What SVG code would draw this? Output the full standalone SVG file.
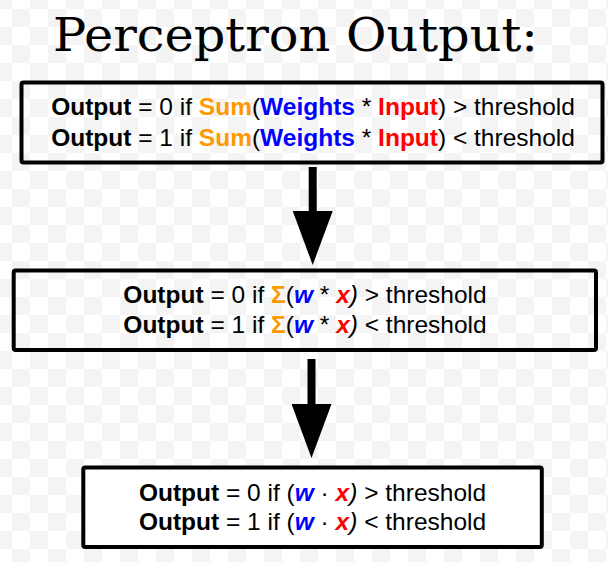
<svg xmlns="http://www.w3.org/2000/svg" width="608" height="562" viewBox="0 0 608 562">
  <defs>
    <pattern id="checker" patternUnits="userSpaceOnUse" x="12" y="9" width="36" height="36">
      <rect x="0" y="0" width="36" height="36" fill="#ffffff"/>
      <rect x="0" y="0" width="18" height="18" fill="#f4f4f4"/>
      <rect x="18" y="18" width="18" height="18" fill="#f4f4f4"/>
    </pattern>
    <marker id="head" viewBox="0 0 54 40" refX="4" refY="20" markerWidth="54" markerHeight="40" markerUnits="userSpaceOnUse" orient="auto">
      <path d="M0,0 L54,20 L0,40 Z" fill="#000"/>
    </marker>
    <style>
      .box { fill: none; stroke: #000; stroke-width: 4; }
      .t { font-family: "Liberation Sans", Arial, sans-serif; font-size: 24.5px; fill: #000; text-anchor: middle; }
      .title { font-family: "DejaVu Serif", "Liberation Serif", serif; font-size: 46px; fill: #000; }
      .b { font-weight: bold; }
      .i { font-style: italic; }
      .o { fill: #ff9900; }
      .bl { fill: #0000ff; }
      .r { fill: #ff0000; }
      .conn { stroke: #000; stroke-width: 8; fill: none; }
    </style>
  </defs>

  <rect x="0" y="0" width="608" height="562" fill="url(#checker)"/>

  <text class="title" x="53" y="50.5" textLength="485" lengthAdjust="spacingAndGlyphs">Perceptron Output:</text>

  <g id="node-sum">
    <rect class="box" x="21.5" y="82.5" width="581" height="80" rx="2"/>
    <text class="t" x="313" y="114.5"><tspan class="b">Output</tspan> = 0 if <tspan class="b o">Sum</tspan>(<tspan class="b bl">Weights</tspan> * <tspan class="b r">Input</tspan>) &gt; threshold</text>
    <text class="t" x="313" y="145.5"><tspan class="b">Output</tspan> = 1 if <tspan class="b o">Sum</tspan>(<tspan class="b bl">Weights</tspan> * <tspan class="b r">Input</tspan>) &lt; threshold</text>
  </g>

  <g id="node-sigma">
    <rect class="box" x="13.7" y="270.5" width="582.3" height="79.5" rx="2"/>
    <text class="t" x="305" y="303"><tspan class="b">Output</tspan> = 0 if <tspan class="b o">Σ</tspan>(<tspan class="b i bl">w</tspan> * <tspan class="b i r">x</tspan><tspan class="i">)</tspan> &gt; threshold</text>
    <text class="t" x="305" y="333"><tspan class="b">Output</tspan> = 1 if <tspan class="b o">Σ</tspan>(<tspan class="b i bl">w</tspan> * <tspan class="b i r">x</tspan><tspan class="i">)</tspan> &lt; threshold</text>
  </g>

  <g id="node-dot">
    <rect class="box" x="83.3" y="467.5" width="458.5" height="79.5" rx="2" style="fill:#ffffff"/>
    <text class="t" x="312.5" y="501"><tspan class="b">Output</tspan> = 0 if (<tspan class="b i bl">w</tspan> · <tspan class="b i r">x</tspan><tspan class="i">)</tspan> &gt; threshold</text>
    <text class="t" x="312.5" y="530"><tspan class="b">Output</tspan> = 1 if (<tspan class="b i bl">w</tspan> · <tspan class="b i r">x</tspan><tspan class="i">)</tspan> &lt; threshold</text>
  </g>

  <g id="connectors">
    <line class="conn" x1="312.7" y1="167" x2="312.7" y2="215" marker-end="url(#head)"/>
    <line class="conn" x1="311.5" y1="359" x2="311.5" y2="408" marker-end="url(#head)"/>
  </g>
</svg>
